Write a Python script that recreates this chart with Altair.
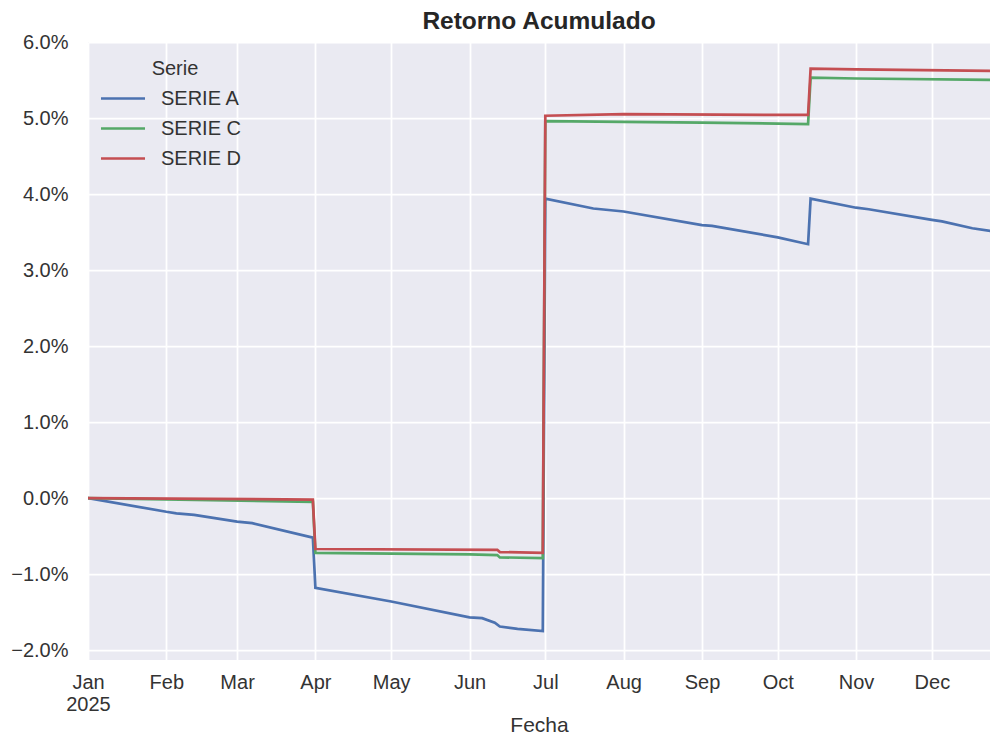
import altair as alt
import pandas as pd

FONT = "Liberation Sans"

series_names = ["SERIE A", "SERIE C", "SERIE D"]
series_colors = ["#4C72B0", "#55A868", "#C44E52"]

# Series A (blue) - cumulative return in %
dates_a = ["2025-01-01", "2025-02-01", "2025-02-05", "2025-02-12", "2025-03-01",
           "2025-03-07", "2025-03-31", "2025-04-01", "2025-05-01", "2025-06-01",
           "2025-06-06", "2025-06-11", "2025-06-13", "2025-06-20", "2025-06-30",
           "2025-07-01", "2025-07-20", "2025-07-26", "2025-08-01", "2025-09-01",
           "2025-09-05", "2025-10-01", "2025-10-13", "2025-10-14", "2025-11-01",
           "2025-11-06", "2025-12-01", "2025-12-05", "2025-12-17", "2025-12-27"]
vals_a = [0.00, -0.18, -0.20, -0.22, -0.31,
          -0.33, -0.52, -1.18, -1.36, -1.57,
          -1.58, -1.64, -1.69, -1.72, -1.75,
          3.94, 3.81, 3.79, 3.77, 3.59,
          3.58, 3.43, 3.34, 3.94, 3.82,
          3.80, 3.66, 3.64, 3.55, 3.50]

# Series C (green)
dates_c = ["2025-01-01", "2025-03-31", "2025-04-01", "2025-06-01", "2025-06-12",
           "2025-06-13", "2025-06-30", "2025-07-01", "2025-08-01", "2025-09-01",
           "2025-10-13", "2025-10-14", "2025-11-01", "2025-12-27"]
vals_c = [0.00, -0.05, -0.72, -0.74, -0.75,
          -0.78, -0.79, 4.96, 4.95, 4.94,
          4.92, 5.53, 5.52, 5.50]

# Series D (red)
dates_d = ["2025-01-01", "2025-03-31", "2025-04-01", "2025-06-12", "2025-06-13",
           "2025-06-30", "2025-07-01", "2025-08-01", "2025-10-13", "2025-10-14",
           "2025-11-01", "2025-12-27"]
vals_d = [0.00, -0.02, -0.67, -0.68, -0.71,
          -0.72, 5.03, 5.05, 5.04, 5.65,
          5.64, 5.62]

y_ticks = [-0.02, -0.01, 0.0, 0.01, 0.02, 0.03, 0.04, 0.05, 0.06]

rows = []
for name, ds, vs in [("SERIE A", dates_a, vals_a), ("SERIE C", dates_c, vals_c),
                     ("SERIE D", dates_d, vals_d)]:
    for d, v in zip(ds, vs):
        rows.append({"Fecha": d, "Retorno": v / 100.0, "Serie": name})
df = pd.DataFrame(rows)

label_expr = ("utcFormat(datum.value, '%m') == '01' ? "
              "[utcFormat(datum.value, '%b'), utcFormat(datum.value, '%Y')] : "
              "utcFormat(datum.value, '%b')")

chart = alt.Chart(df).mark_line(strokeWidth=2.7, clip=True).encode(
    x=alt.X("Fecha:T",
            scale=alt.Scale(type="utc",
                            domain=[alt.DateTime(year=2025, month=1, date=1, utc=True),
                                    alt.DateTime(year=2025, month=12, date=24, utc=True)]),
            axis=alt.Axis(title="Fecha", tickCount={"interval": "month", "step": 1},
                          labelExpr=label_expr, labelFlush=False, labelOverlap=False,
                          labelAlign="center", labelBaseline="top", labelLineHeight=22,
                          labelPadding=12, titlePadding=0)),
    y=alt.Y("Retorno:Q",
            scale=alt.Scale(domain=[-0.0213, 0.06], nice=False, zero=False),
            axis=alt.Axis(title=None, format=".1%", values=y_ticks, labelPadding=20,
                          minExtent=80, maxExtent=80)),
    color=alt.Color("Serie:N",
                    scale=alt.Scale(domain=series_names, range=series_colors),
                    legend=alt.Legend(title="Serie", orient="none", legendX=20, legendY=17,
                                      symbolType="M-1.63,0L1.63,0", symbolSize=729,
                                      symbolStrokeWidth=2.7, labelOffset=23, rowPadding=5,
                                      titlePadding=4.5, padding=0, titleAnchor="middle",
                                      titleAlign="center")),
).properties(
    width=902,
    height=618,
    padding={"left": 0, "top": 0, "right": 0, "bottom": 0},
    title=alt.TitleParams("Retorno Acumulado", anchor="middle", fontSize=24.5,
                          fontWeight="bold", font=FONT, color="#262626", offset=-2),
).configure_view(
    strokeWidth=0, fill="#EAEAF2"
).configure_axis(
    grid=True, gridColor="white", gridWidth=1.75, domain=False, ticks=False, tickSize=0,
    labelFont=FONT, labelFontSize=20, labelColor="#333333",
    titleFont=FONT, titleFontSize=21, titleFontWeight="normal", titleColor="#333333",
).configure_legend(
    labelFont=FONT, labelFontSize=20, labelColor="#333333",
    titleFont=FONT, titleFontSize=20, titleFontWeight="normal", titleColor="#333333",
)

chart.save("out.html", embed_options={"renderer": "svg", "actions": False})
